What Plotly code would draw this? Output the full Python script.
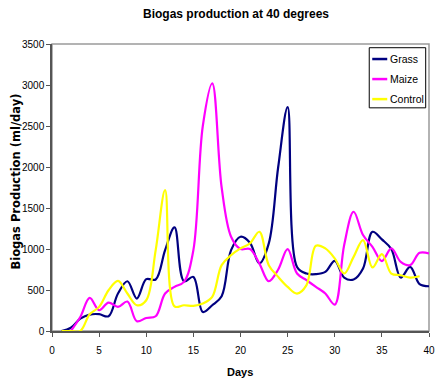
import plotly.graph_objects as go

# Daily biogas production (ml/day) at 40 degrees
grass_days = list(range(1, 41))
grass = [0, 40, 150, 200, 205, 180, 457, 607, 396, 632,
         628, 986, 1263, 607, 660, 232, 314, 424, 986, 1149,
         1076, 823, 1068, 2000, 2730, 780, 701, 693, 721, 856,
         652, 628, 762, 1210, 1117, 1000, 652, 782, 571, 546]

maize_days = list(range(2, 41))
maize = [0, 170, 403, 253, 347, 294, 359, 120, 159,
         180, 457, 538, 599, 986, 2500, 3020, 1750, 1150, 1000,
         1000, 823, 607, 750, 998, 701, 620, 538, 457, 322,
         1050, 1454, 1170, 1027, 852, 1007, 843, 803, 953, 946]

control_days = list(range(1, 40))
control = [0, 0, 0, 204, 294, 497, 611, 457, 314, 375,
           986, 1717, 300, 314, 306, 335, 416, 803, 925, 1007,
           1068, 1210, 803, 660, 538, 457, 560, 1040, 1007, 885,
           701, 904, 1108, 775, 937, 701, 680, 652, 668]

series_names = ["Grass", "Maize", "Control"]
series_colors = ["#000080", "#FF00FF", "#FFFF00"]

x_ticks = [0, 5, 10, 15, 20, 25, 30, 35, 40]
y_ticks = [0, 500, 1000, 1500, 2000, 2500, 3000, 3500]

FONT = "Liberation Sans, Arial, sans-serif"
W, H = 435, 379
ML, MR, MT, MB = 51.5, 6.2, 44.3, 48.3
PW, PH = W - ML - MR, H - MT - MB


def px_x(px):
    """Horizontal pixel position -> paper fraction."""
    return (px - ML) / PW


def px_y(py):
    """Vertical pixel position (from top) -> paper fraction."""
    return (H - MB - py) / PH


fig = go.Figure()
for name, xs, ys, color in zip(series_names,
                                [grass_days, maize_days, control_days],
                                [grass, maize, control], series_colors):
    fig.add_trace(go.Scatter(
        x=xs, y=ys, name=name, mode="lines", showlegend=False,
        line=dict(color=color, width=2.2, shape="spline", smoothing=1.0),
    ))

axis_common = dict(
    showgrid=False, zeroline=False, showline=True, automargin=False,
    linecolor="#555555", linewidth=1.5,
    ticks="outside", ticklen=4, tickcolor="#555555", tickwidth=1,
    tickfont=dict(family=FONT, size=10, color="#000000"),
)

# Plot frame
shapes = [dict(type="rect", xref="paper", yref="paper", x0=0, x1=1, y0=0, y1=1,
               line=dict(color="#9a9a9a", width=1.5), layer="below")]

# Legend box with line samples
shapes.append(dict(type="rect", xref="paper", yref="paper",
                   x0=px_x(369), x1=px_x(425.5), y0=px_y(108), y1=px_y(48),
                   line=dict(color="#000000", width=1), fillcolor="white",
                   layer="above"))
annotations = []
for i, (name, color) in enumerate(zip(series_names, series_colors)):
    yy = px_y(59.3 + 20 * i)
    shapes.append(dict(type="line", xref="paper", yref="paper",
                       x0=px_x(372), x1=px_x(387), y0=yy, y1=yy,
                       line=dict(color=color, width=2.5), layer="above"))
    annotations.append(dict(text=name, xref="paper", yref="paper",
                            x=px_x(388), y=yy, xanchor="left", yanchor="middle",
                            showarrow=False,
                            font=dict(family=FONT, size=10.5, color="#000000")))

# Axis titles
annotations.append(dict(text="<b>Biogas Production (ml/day)</b>", textangle=-90,
                        xref="paper", yref="paper", x=px_x(15), y=px_y(182),
                        xanchor="center", yanchor="middle", showarrow=False,
                        font=dict(family="DejaVu Sans, " + FONT, size=11.5,
                                  color="#000000")))
annotations.append(dict(text="<b>Days</b>",
                        xref="paper", yref="paper", x=px_x(240), y=px_y(372),
                        xanchor="center", yanchor="middle", showarrow=False,
                        font=dict(family=FONT, size=11, color="#000000")))

fig.update_layout(
    width=W, height=H,
    margin=dict(l=ML, r=MR, t=MT, b=MB),
    paper_bgcolor="white", plot_bgcolor="white",
    title=dict(text="<b>Biogas production at 40 degrees</b>",
               x=236 / W, xanchor="center", y=1 - 14 / H, yanchor="middle",
               font=dict(family=FONT, size=12, color="#000000")),
    xaxis=dict(range=[0, 40], tickvals=x_ticks, ticklabeloverflow="allow",
               ticklabelstandoff=5, **axis_common),
    yaxis=dict(range=[0, 3500], tickvals=y_ticks, **axis_common),
    shapes=shapes,
    annotations=annotations,
)

fig.write_html("out.html")
